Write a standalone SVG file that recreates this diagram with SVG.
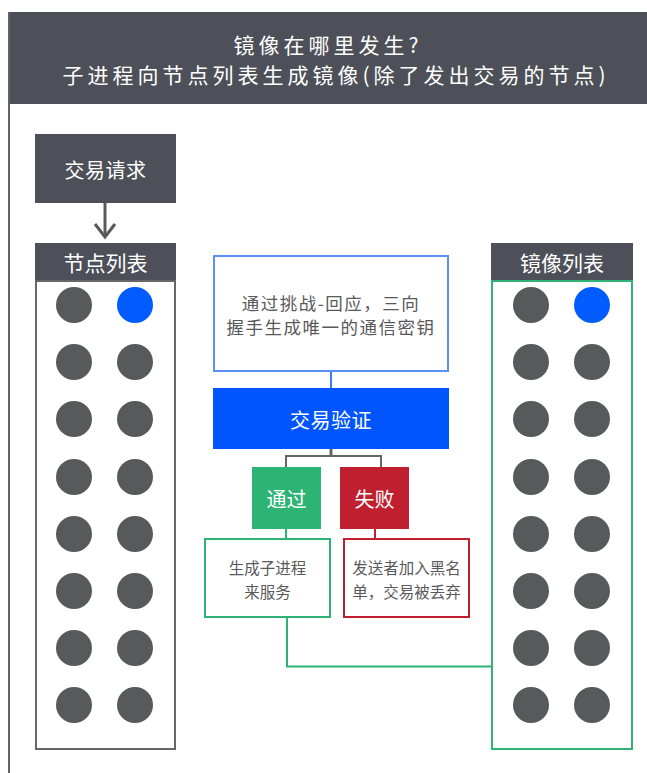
<svg xmlns="http://www.w3.org/2000/svg" width="647" height="773" viewBox="0 0 647 773">
  <defs>
    <style>
      text { font-family: "Noto Sans CJK SC", "Noto Sans", sans-serif; text-anchor: middle; dominant-baseline: central; }
      .dark { fill: #4d5058; }
      .wt { fill: #ffffff; }
      .gt { fill: #595959; }
      .dot { fill: #58595b; }
      .bdot { fill: #005cff; }
      .conn { fill: none; stroke-width: 2; }
    </style>
  </defs>
  <rect width="647" height="773" fill="#ffffff"/>

  <g id="title">
    <rect x="8" y="12" width="639" height="92" class="dark"/>
    <line x1="9" y1="12" x2="9" y2="773" stroke="#5f636b" stroke-width="2"/>
    <text x="328" y="44" font-size="21" letter-spacing="4" class="wt">镜像在哪里发生?</text>
    <text x="336" y="74" font-size="21" letter-spacing="4" class="wt">子进程向节点列表生成镜像(除了发出交易的节点)</text>
  </g>

  <g id="connectors">
    <line x1="105" y1="203" x2="105" y2="237" stroke="#5a5a5a" stroke-width="3"/>
    <polyline points="95,224 105,237 115,224" fill="none" stroke="#5a5a5a" stroke-width="3"/>
    <line x1="331" y1="372" x2="331" y2="388" class="conn" stroke="#3d7bf5"/>
    <polyline points="286,467 286,456 381,456 381,467" class="conn" stroke="#666666" stroke-width="3"/>
    <line x1="331" y1="449" x2="331" y2="456" stroke="#666666" stroke-width="3"/>
    <line x1="286" y1="529" x2="286" y2="538" class="conn" stroke="#2db474"/>
    <line x1="375" y1="529" x2="375" y2="538" class="conn" stroke="#c01f2f"/>
    <polyline points="287,618 287,666.5 492,666.5" class="conn" stroke="#2db474"/>
  </g>

  <g id="request">
    <rect x="35" y="134" width="141" height="69" class="dark"/>
    <text x="105.5" y="169" font-size="20" letter-spacing="0.5" class="wt">交易请求</text>
  </g>

  <g id="node-list">
    <rect x="36" y="281" width="139" height="468" fill="#ffffff" stroke="#666666" stroke-width="2"/>
    <rect x="35" y="243" width="141" height="37" class="dark"/>
    <text x="105.5" y="262" font-size="21" class="wt">节点列表</text>
    <circle cx="74" cy="305" r="18" class="dot"/><circle cx="135" cy="305" r="18" class="bdot"/>
    <circle cx="74" cy="362" r="18" class="dot"/><circle cx="135" cy="362" r="18" class="dot"/>
    <circle cx="74" cy="419" r="18" class="dot"/><circle cx="135" cy="419" r="18" class="dot"/>
    <circle cx="74" cy="477" r="18" class="dot"/><circle cx="135" cy="477" r="18" class="dot"/>
    <circle cx="74" cy="534" r="18" class="dot"/><circle cx="135" cy="534" r="18" class="dot"/>
    <circle cx="74" cy="591" r="18" class="dot"/><circle cx="135" cy="591" r="18" class="dot"/>
    <circle cx="74" cy="648" r="18" class="dot"/><circle cx="135" cy="648" r="18" class="dot"/>
    <circle cx="74" cy="705" r="18" class="dot"/><circle cx="135" cy="705" r="18" class="dot"/>
  </g>

  <g id="mirror-list">
    <rect x="492" y="281" width="140" height="468" fill="#ffffff" stroke="#2db474" stroke-width="2"/>
    <rect x="491" y="243" width="142" height="37" class="dark"/>
    <text x="562" y="262" font-size="21" class="wt">镜像列表</text>
    <circle cx="531" cy="305" r="18" class="dot"/><circle cx="592" cy="305" r="18" class="bdot"/>
    <circle cx="531" cy="362" r="18" class="dot"/><circle cx="592" cy="362" r="18" class="dot"/>
    <circle cx="531" cy="419" r="18" class="dot"/><circle cx="592" cy="419" r="18" class="dot"/>
    <circle cx="531" cy="477" r="18" class="dot"/><circle cx="592" cy="477" r="18" class="dot"/>
    <circle cx="531" cy="534" r="18" class="dot"/><circle cx="592" cy="534" r="18" class="dot"/>
    <circle cx="531" cy="591" r="18" class="dot"/><circle cx="592" cy="591" r="18" class="dot"/>
    <circle cx="531" cy="648" r="18" class="dot"/><circle cx="592" cy="648" r="18" class="dot"/>
    <circle cx="531" cy="705" r="18" class="dot"/><circle cx="592" cy="705" r="18" class="dot"/>
  </g>

  <g id="handshake">
    <rect x="214" y="256" width="234" height="115" fill="#ffffff" stroke="#5b8ef7" stroke-width="2"/>
    <text x="331" y="302" font-size="17.5" letter-spacing="1.5" class="gt">通过挑战-回应，三向</text>
    <text x="331" y="326" font-size="17.5" letter-spacing="1.5" class="gt">握手生成唯一的通信密钥</text>
  </g>

  <g id="verify">
    <rect x="213" y="388" width="236" height="61" fill="#0055ff"/>
    <text x="331" y="419" font-size="20" letter-spacing="0.5" class="wt">交易验证</text>
  </g>

  <g id="pass">
    <rect x="252" y="467" width="69" height="62" fill="#2db474"/>
    <text x="286.5" y="498" font-size="20" class="wt">通过</text>
  </g>

  <g id="fail">
    <rect x="340" y="467" width="69" height="62" fill="#c01f2f"/>
    <text x="374.5" y="498" font-size="20" class="wt">失败</text>
  </g>

  <g id="spawn">
    <rect x="205" y="539" width="125" height="78" fill="#ffffff" stroke="#2db474" stroke-width="2"/>
    <text x="267.5" y="567" font-size="15.5" class="gt">生成子进程</text>
    <text x="267.5" y="591" font-size="15.5" class="gt">来服务</text>
  </g>

  <g id="blacklist">
    <rect x="344" y="539" width="125" height="78" fill="#ffffff" stroke="#c01f2f" stroke-width="2"/>
    <text x="406.5" y="567" font-size="15.5" class="gt">发送者加入黑名</text>
    <text x="406.5" y="591" font-size="15.5" class="gt">单，交易被丢弃</text>
  </g>
</svg>
